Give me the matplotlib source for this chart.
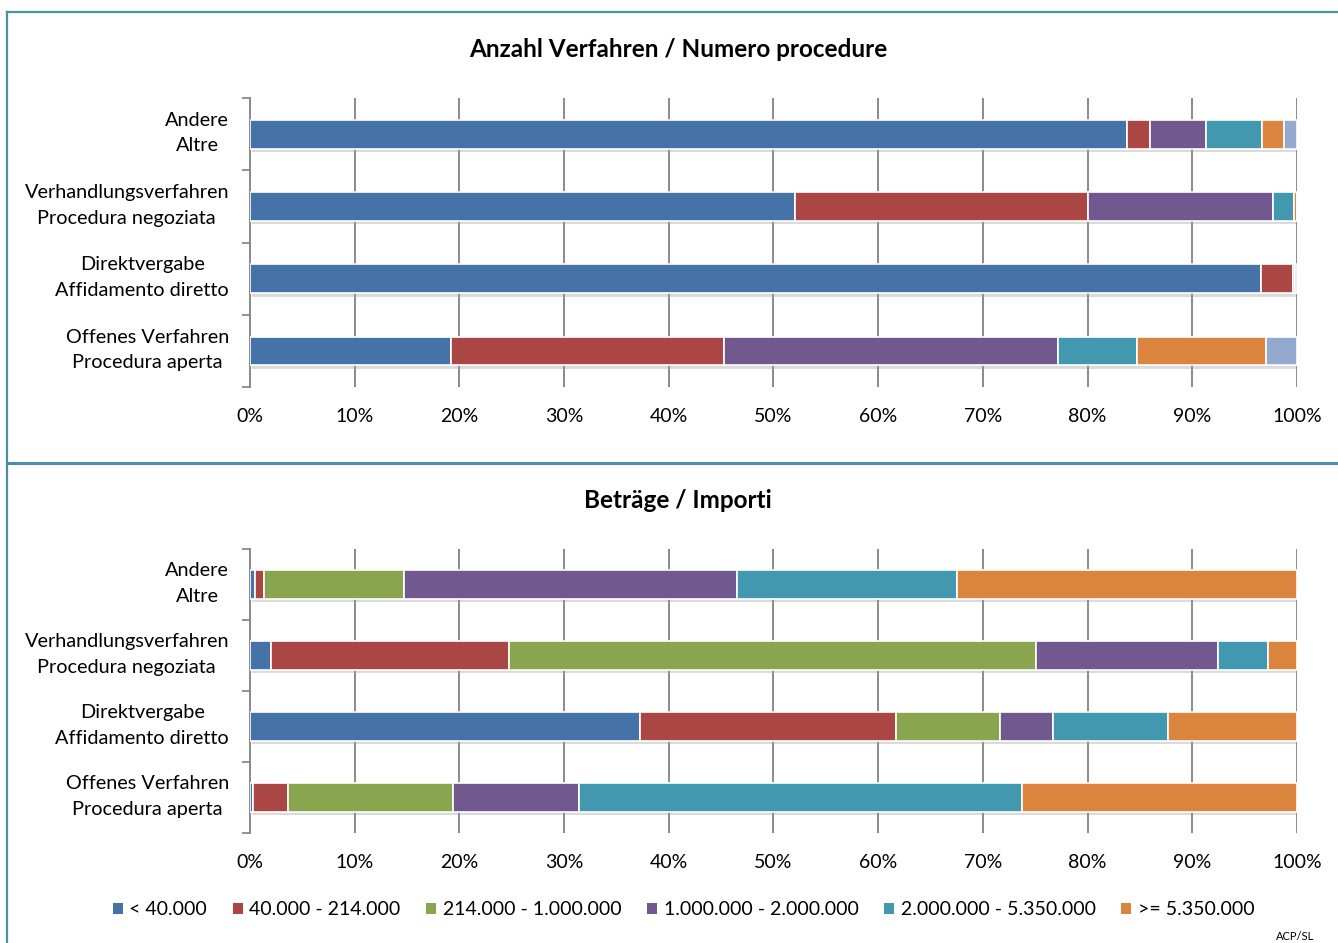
import numpy as np
import matplotlib
matplotlib.use("Agg")
import matplotlib.pyplot as plt
import matplotlib.patheffects as pe
import matplotlib.transforms as mtransforms
from matplotlib.lines import Line2D
from matplotlib.patches import Patch

plt.rcParams["font.family"] = ["Lato", "DejaVu Sans"]

# categories, bottom to top
CATEGORIES = [
    "Offenes Verfahren\nProcedura aperta",
    "Direktvergabe\nAffidamento diretto",
    "Verhandlungsverfahren\nProcedura negoziata",
    "Andere\nAltre",
]
SERIES = ["< 40.000", "40.000 - 214.000", "214.000 - 1.000.000",
          "1.000.000 - 2.000.000", "2.000.000 - 5.350.000", ">= 5.350.000"]
COLORS = ["#4572A7", "#AA4643", "#89A54E", "#71588F", "#4198AF", "#DB843D", "#93A9CF"]

# Anzahl Verfahren (%), one list per series, in CATEGORIES order
count_lt40 = [19.2, 96.6, 52.1, 83.8]
count_40_214 = [26.1, 3.0, 27.9, 2.2]
count_214_1m = [0.0, 0.0, 0.0, 0.0]
count_1m_2m = [31.9, 0.2, 17.7, 5.3]
count_2m_535 = [7.5, 0.0, 2.0, 5.4]
count_ge535 = [12.3, 0.0, 0.3, 2.1]
count_other = [3.0, 0.2, 0.0, 1.2]

# Beträge / Importi (%)
amt_lt40 = [0.3, 37.3, 2.0, 0.5]
amt_40_214 = [3.3, 24.4, 22.7, 0.8]
amt_214_1m = [15.8, 9.9, 50.4, 13.4]
amt_1m_2m = [12.0, 5.1, 17.4, 31.8]
amt_2m_535 = [42.3, 11.0, 4.7, 21.0]
amt_ge535 = [26.3, 12.3, 2.8, 32.5]

counts = [count_lt40, count_40_214, count_214_1m, count_1m_2m,
          count_2m_535, count_ge535, count_other]
amounts = [amt_lt40, amt_40_214, amt_214_1m, amt_1m_2m, amt_2m_535, amt_ge535]

FRAME = "#4A90A8"
GRID = "#8A8A8A"


def draw_panel(ax, data, title_y, title, fig):
    y = np.arange(len(CATEGORIES))
    left = np.zeros(len(CATEGORIES))
    for i, vals in enumerate(data):
        vals = np.array(vals)
        bars = ax.barh(y, vals, left=left, height=0.4, color=COLORS[i],
                       edgecolor="white", linewidth=1.2, zorder=3)
        for b in bars:
            b.set_path_effects([pe.SimplePatchShadow(offset=(1.5, -2.5), shadow_rgbFace="#999999", alpha=0.35),
                                pe.Normal()])
        left += vals
    ax.set_xlim(0, 100)
    ax.set_ylim(-0.5, len(CATEGORIES) - 0.5)
    ax.set_xticks(np.arange(0, 101, 10))
    ax.set_xticklabels([f"{v}%" for v in range(0, 101, 10)], fontsize=14)
    ax.tick_params(axis="x", length=0, pad=15)

    # category labels, two centred lines to the left of the axis
    ax.set_yticks([])
    trans = mtransforms.blended_transform_factory(ax.transAxes, ax.transData) + \
        mtransforms.ScaledTranslation(-21 / 100, 1 / 100, fig.dpi_scale_trans)
    for yi, cat in zip(y, CATEGORIES):
        ax.text(0, yi, cat, transform=trans, ha="right", va="center",
                multialignment="center", linespacing=1.6, fontsize=14.3)

    ax.set_yticks(np.arange(-0.5, len(CATEGORIES), 1.0), minor=True)
    ax.tick_params(axis="y", which="minor", length=6, width=1.3, color=GRID, direction="out")
    ax.xaxis.grid(True, color=GRID, linewidth=1.4, zorder=0)
    ax.set_axisbelow(True)
    for s in ["top", "right", "bottom"]:
        ax.spines[s].set_visible(False)
    ax.spines["left"].set_color(GRID)
    ax.spines["left"].set_linewidth(1.4)
    fig.text(0.507, title_y, title, ha="center", va="center", fontsize=17.5, fontweight="bold")


fig = plt.figure(figsize=(13.38, 9.43), dpi=100)
ax1 = fig.add_axes([0.1868, 0.5895, 0.7825, 0.3066])
ax2 = fig.add_axes([0.1868, 0.1166, 0.7825, 0.3012])

draw_panel(ax1, counts, 0.948, "Anzahl Verfahren / Numero procedure", fig)
draw_panel(ax2, amounts, 0.469, "Beträge / Importi", fig)

handles = [Patch(facecolor=c, edgecolor="none") for c in COLORS[:len(SERIES)]]
fig.legend(handles, SERIES, loc="center", bbox_to_anchor=(0.511, 0.035), ncol=6,
           frameon=False, fontsize=14, handlelength=0.5, handleheight=0.5,
           handletextpad=0.35, columnspacing=1.32)

fig.text(0.954, 0.001, "ACP/SL", ha="left", va="bottom", fontsize=8)

# outer frame and divider
fig.add_artist(Line2D([7 / 1338, 7 / 1338], [0, 1 - 12 / 943], color=FRAME, lw=1.6))
fig.add_artist(Line2D([7 / 1338, 1], [1 - 12 / 943, 1 - 12 / 943], color=FRAME, lw=1.6))
fig.add_artist(Line2D([7 / 1338, 1], [1 - 463 / 943, 1 - 463 / 943], color=FRAME, lw=2.2))

fig.savefig("out.png", dpi=100)
